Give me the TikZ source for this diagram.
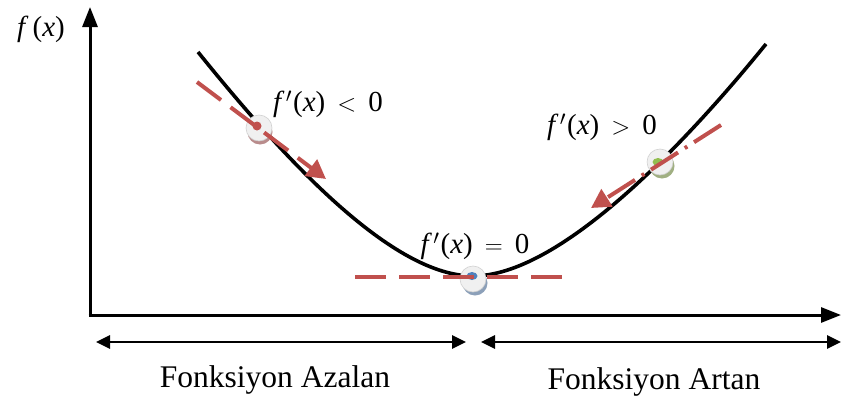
\documentclass[tikz,border=0pt]{standalone}
\usepackage{fontspec}
\setmainfont{Liberation Serif}
\usetikzlibrary{arrows.meta}
\definecolor{redline}{RGB}{192,80,77}
\definecolor{discfill}{RGB}{240,240,240}
\definecolor{shadowred}{RGB}{185,140,140}
\definecolor{shadowblue}{RGB}{140,160,185}
\definecolor{shadowgreen}{RGB}{160,175,130}
\definecolor{innerblue}{RGB}{79,129,189}
\definecolor{innergreen}{RGB}{146,190,80}
\tikzset{
  axisline/.style={line width=3pt,-{Triangle[length=20pt,width=15pt]}},
  rangearrow/.style={line width=2.6pt,{Triangle[length=14pt,width=13pt]}-{Triangle[length=14pt,width=13pt]}},
  curveline/.style={line width=3.6pt,black},
  redarrow/.style={line width=4pt,redline,-{Triangle[length=19pt,width=20pt]}},
  flatdash/.style={line width=4pt,redline,dash pattern=on 31pt off 13pt},
  mathlabel/.style={font=\fontsize{29}{31}\selectfont,inner sep=0pt},
  rangelabel/.style={font=\fontsize{31.5}{33}\selectfont,inner sep=0pt},
  disc/.style={circle,minimum size=26pt,inner sep=0pt,fill=discfill,draw=white!82!black,line width=0.6pt},
}
\newcommand{\fx}{\textit{f}\kern1.5pt$'$\kern1pt(\textit{x})}
\begin{document}
\begin{tikzpicture}[x=1pt,y=-1pt]
\useasboundingbox (0,0) rectangle (841,399);
% axes
\coordinate (O) at (90,315);
\coordinate (Ytip) at (90,7);
\coordinate (Xtip) at (841,315);
\coordinate (Ocorner) at (90,316.5);
\draw[axisline] (Ocorner) -- (Ytip);
\draw[axisline] (88.5,315) -- (Xtip);
\node[mathlabel,font=\fontsize{29}{31}\selectfont] (fxlab) at (41,29) {\textit{f}\kern4pt(\textit{x})};
% curve
\coordinate (cs) at (198,52);
\coordinate (cm) at (473,276);
\coordinate (ce) at (766,44);
\draw[curveline] (cs) .. controls (285,160) and (392,276) .. (cm)
  .. controls (558,276) and (680,150) .. (ce);
% discs
\fill[shadowred] (260,132) circle (12.5pt);
\node[disc] (d1) at (259,128) {};
\fill[redline] (257,126) circle (4.5pt);
\fill[shadowblue] (475,283) circle (12.5pt);
\node[disc] (d2) at (473,279) {};
\fill[innerblue] (472,276) ellipse (5.5pt and 4pt);
\fill[shadowgreen] (662,166) circle (12.5pt);
\node[disc] (d3) at (660,162) {};
\fill[innergreen] (658,162) ellipse (5.5pt and 4pt);
% red tangent lines
\coordinate (l1s) at (197,82);
\coordinate (l1e) at (326,179);
\draw[redarrow,dash pattern=on 30pt off 12pt] (l1s) -- (l1e);
\coordinate (l2s) at (355,277);
\coordinate (l2e) at (563,277);
\draw[flatdash] (l2s) -- (l2e);
\coordinate (l3s) at (721,125);
\coordinate (l3e) at (591,208);
\draw[redarrow,dash pattern=on 32pt off 8pt on 3pt off 8pt] (l3s) -- (l3e);
% labels
\node[mathlabel] (lab1) at (328,104) {\fx\,\ $<$\ \,0};
\node[mathlabel] (lab2) at (475,246) {\fx\,\ $=$\ \,0};
\node[mathlabel] (lab3) at (602,127) {\fx\,\ $>$\ \,0};
% range arrows
\coordinate (r1s) at (96,342);
\coordinate (r1e) at (466,342);
\coordinate (r2s) at (481,342);
\coordinate (r2e) at (841,342);
\draw[rangearrow] (r1s) -- (r1e);
\draw[rangearrow] (r2s) -- (r2e);
\node[rangelabel] (az) at (275,380) {Fonksiyon Azalan};
\node[rangelabel] (ar) at (654,382) {Fonksiyon Artan};
\end{tikzpicture}
\end{document}
